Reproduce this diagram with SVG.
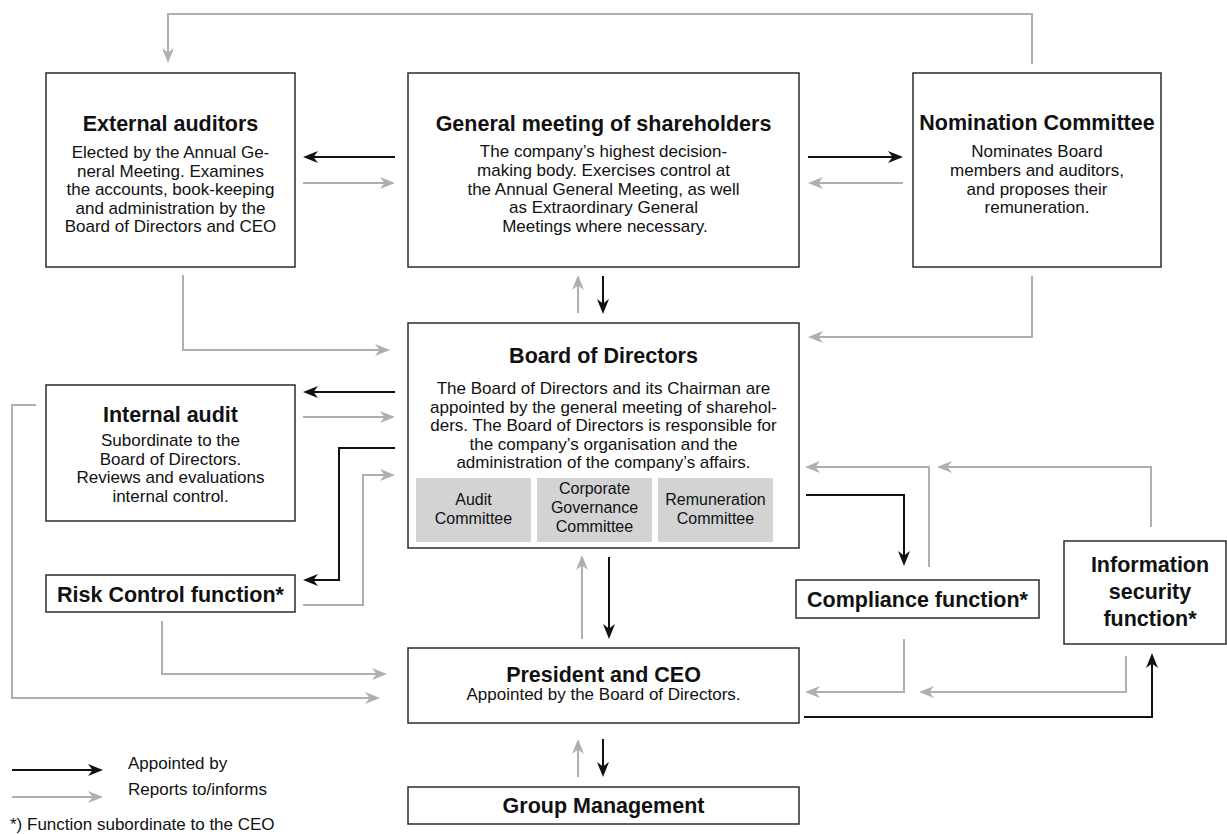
<svg xmlns="http://www.w3.org/2000/svg" width="1227" height="834" viewBox="0 0 1227 834">
<style>
.box{fill:#fff;stroke:#2b2b2b;stroke-width:1.5}
.com{fill:#d3d3d4}
text{font-family:"Liberation Sans",Arial,sans-serif;fill:#111;text-anchor:middle}
.t{font-size:21.5px;font-weight:bold}
.b{font-size:17px}
.c{font-size:16px}
.l{text-anchor:start}
.k{fill:none;stroke:#111;stroke-width:2}
.g{fill:none;stroke:#afafb1;stroke-width:2}
.k{marker-end:url(#ak)}
.g{marker-end:url(#ag)}
</style>
<defs>
<marker id="ak" markerUnits="userSpaceOnUse" viewBox="0 0 15 12" markerWidth="15" markerHeight="12" refX="12" refY="6" orient="auto"><path d="M0,0 L15,6 L0,12 L4.5,6 z" fill="#111"/></marker>
<marker id="ag" markerUnits="userSpaceOnUse" viewBox="0 0 15 12" markerWidth="15" markerHeight="12" refX="12" refY="6" orient="auto"><path d="M0,0 L15,6 L0,12 L4.5,6 z" fill="#afafb1"/></marker>
</defs>
<rect width="1227" height="834" fill="#fff"/>
<g id="connectors">
<path class="g" d="M1032,64 V14 H168 V60"/>
<path class="k" d="M395,157 H306"/>
<path class="g" d="M303,183 H392"/>
<path class="k" d="M808,157 H900"/>
<path class="g" d="M903,183 H811"/>
<path class="g" d="M183,275 V350 H387"/>
<path class="g" d="M1032,276 V337 H811"/>
<path class="g" d="M578,313 V278"/>
<path class="k" d="M603,276 V311"/>
<path class="k" d="M395,392 H306"/>
<path class="g" d="M303,417 H392"/>
<path class="k" d="M395,448 H339 V580 H306"/>
<path class="g" d="M303,605 H363 V475 H392"/>
<path class="g" d="M36,405 H12 V698 H377"/>
<path class="g" d="M162,621 V674 H384"/>
<path class="g" d="M582,639 V558"/>
<path class="k" d="M609,557 V636"/>
<path class="g" d="M578,777 V742"/>
<path class="k" d="M603,739 V774"/>
<path class="k" d="M806,495 H904 V563"/>
<path class="g" d="M929,567 V467 H808"/>
<path class="g" d="M1151,527 V467 H940"/>
<path class="g" d="M904,639 V692 H808"/>
<path class="g" d="M1126,656 V692 H922"/>
<path class="k" d="M804,717 H1152 V656"/>
</g>
<g id="external-auditors">
<rect class="box" x="46" y="73" width="249" height="194"/>
<text class="t" x="170.5" y="131">External auditors</text>
<text class="b" x="170.5" y="158">Elected by the Annual Ge-</text>
<text class="b" x="170.5" y="176.5">neral Meeting. Examines</text>
<text class="b" x="170.5" y="195">the accounts, book-keeping</text>
<text class="b" x="170.5" y="213.5">and administration by the</text>
<text class="b" x="170.5" y="232">Board of Directors and CEO</text>
</g>
<g id="general-meeting">
<rect class="box" x="408" y="73" width="391" height="194"/>
<text class="t" x="603.5" y="131">General meeting of shareholders</text>
<text class="b" x="603.5" y="157">The company’s highest decision-</text>
<text class="b" x="603.5" y="176">making body. Exercises control at</text>
<text class="b" x="603.5" y="194.5">the Annual General Meeting, as well</text>
<text class="b" x="603.5" y="213">as Extraordinary General</text>
<text class="b" x="605" y="232">Meetings where necessary.</text>
</g>
<g id="nomination-committee">
<rect class="box" x="913" y="73" width="248" height="194"/>
<text class="t" x="1037" y="130">Nomination Committee</text>
<text class="b" x="1037" y="157">Nominates Board</text>
<text class="b" x="1037" y="176">members and auditors,</text>
<text class="b" x="1037" y="194.5">and proposes their</text>
<text class="b" x="1037" y="213">remuneration.</text>
</g>
<g id="board-of-directors">
<rect class="box" x="408" y="323" width="391" height="225"/>
<text class="t" x="603.5" y="363">Board of Directors</text>
<text class="b" x="603.5" y="394">The Board of Directors and its Chairman are</text>
<text class="b" x="603.5" y="412.5">appointed by the general meeting of sharehol-</text>
<text class="b" x="603.5" y="431">ders. The Board of Directors is responsible for</text>
<text class="b" x="603.5" y="449.5">the company’s organisation and the</text>
<text class="b" x="603.5" y="468">administration of the company’s affairs.</text>
<rect class="com" x="416" y="478" width="115" height="64"/>
<rect class="com" x="537" y="478" width="115" height="64"/>
<rect class="com" x="658" y="478" width="115" height="64"/>
<text class="c" x="473.5" y="505">Audit</text>
<text class="c" x="473.5" y="524">Committee</text>
<text class="c" x="594.5" y="494">Corporate</text>
<text class="c" x="594.5" y="513">Governance</text>
<text class="c" x="594.5" y="532">Committee</text>
<text class="c" x="715.5" y="505">Remuneration</text>
<text class="c" x="715.5" y="524">Committee</text>
</g>
<g id="internal-audit">
<rect class="box" x="46" y="385" width="249" height="136"/>
<text class="t" x="170.5" y="422">Internal audit</text>
<text class="b" x="170.5" y="446">Subordinate to the</text>
<text class="b" x="170.5" y="464.5">Board of Directors.</text>
<text class="b" x="170.5" y="483">Reviews and evaluations</text>
<text class="b" x="170.5" y="501.5">internal control.</text>
</g>
<g id="risk-control">
<rect class="box" x="46" y="575" width="249" height="37"/>
<text class="t" x="170.5" y="602">Risk Control function*</text>
</g>
<g id="president-ceo">
<rect class="box" x="408" y="648" width="391" height="75"/>
<text class="t" x="603.5" y="682">President and CEO</text>
<text class="b" x="603.5" y="700">Appointed by the Board of Directors.</text>
</g>
<g id="group-management">
<rect class="box" x="408" y="787" width="391" height="37"/>
<text class="t" x="603.5" y="813">Group Management</text>
</g>
<g id="compliance">
<rect class="box" x="796" y="580" width="243" height="38"/>
<text class="t" x="917.5" y="607">Compliance function*</text>
</g>
<g id="information-security">
<rect class="box" x="1064" y="541" width="162" height="103"/>
<text class="t" x="1150" y="572">Information</text>
<text class="t" x="1150" y="599">security</text>
<text class="t" x="1150" y="626">function*</text>
</g>
<g id="legend">
<path class="k" d="M12,770 H100"/>
<path class="g" d="M12,797 H100"/>
<text class="b l" x="128" y="769">Appointed by</text>
<text class="b l" x="128" y="795">Reports to/informs</text>
<text class="b l" x="10" y="830">*) Function subordinate to the CEO</text>
</g>
</svg>
